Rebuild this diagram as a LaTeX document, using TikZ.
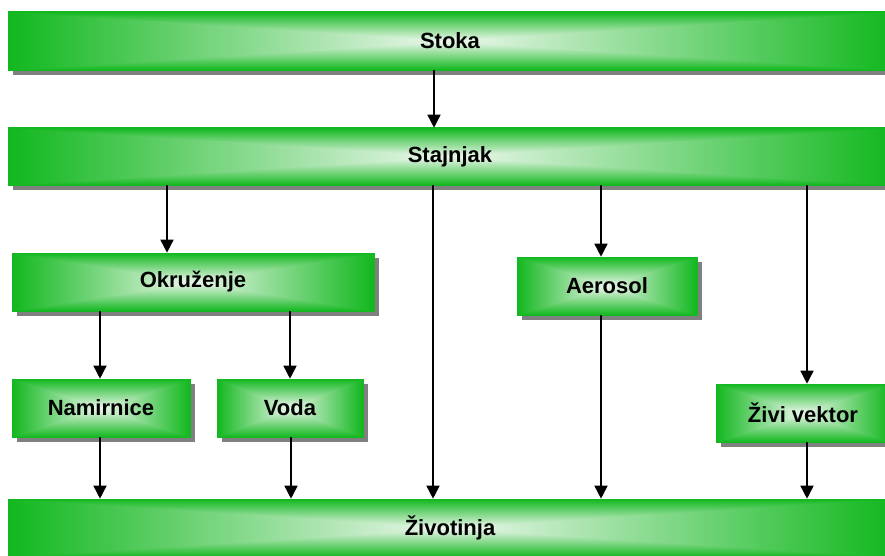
\documentclass[tikz,border=0pt]{standalone}
\usepackage{fontspec}
\setmainfont{Liberation Sans}
\usepackage{xcolor}
\usepackage{tikz}
\usetikzlibrary{arrows.meta, shadows}
\definecolor{boxgreen}{rgb}{0.07,0.72,0.12}
\pgfdeclarefunctionalshading{greenbox}{\pgfpoint{-50bp}{-50bp}}{\pgfpoint{50bp}{50bp}}{}{
  abs exch abs 2 copy lt {exch} if pop 25 div
  dup 1 gt {pop 1} if
  dup 0.86 mul 0.93 exch sub
  exch dup 0.25 mul 0.97 exch sub
  exch 0.81 mul 0.93 exch sub
}

\begin{document}
\begin{tikzpicture}[x=1pt, y=-1pt, >={Triangle[width=13pt, length=13pt]},
  bx/.style={shading=greenbox, shading angle=0, draw=boxgreen, line width=0.6pt,
    minimum height=58pt, inner sep=0pt,
    drop shadow={shadow xshift=5pt, shadow yshift=-5pt, fill=black!50, opacity=1},
    font=\bfseries\fontsize{22}{26}\selectfont},
  ar/.style={->, line width=1.6pt}]
  \useasboundingbox (0,0) rectangle (885,556);
  \clip (0,0) rectangle (885,556);
  \node[bx, minimum width=884pt] (stoka) at (450,41) {Stoka};
  \node[bx, minimum width=884pt, minimum height=57pt] (stajnjak) at (450,156.5) {Stajnjak};
  \node[bx, minimum width=362pt] (okruzenje) at (193,282) {Okru\v{z}enje};
  \node[bx, minimum width=178pt] (namirnice) at (101,408) {Namirnice};
  \node[bx, minimum width=146pt] (voda) at (290,408) {Voda};
  \node[bx, minimum width=180pt] (aerosol) at (607,286) {Aerosol};
  \node[bx, minimum width=174pt] (vektor) at (803,413) {\v{Z}ivi vektor};
  \node[bx, minimum width=884pt] (zivotinja) at (450,528) {\v{Z}ivotinja};
  % connectors
  \foreach \a/\b/\x in {stoka/stajnjak/434, stajnjak/okruzenje/167,
      stajnjak/zivotinja/433, stajnjak/aerosol/601, stajnjak/vektor/807,
      okruzenje/namirnice/100, okruzenje/voda/290,
      namirnice/zivotinja/100, voda/zivotinja/291,
      aerosol/zivotinja/601, vektor/zivotinja/807} {
    \draw[ar] (\a.south -| \x,0) -- (\b.north -| \x,0);
  }
\end{tikzpicture}
\end{document}
